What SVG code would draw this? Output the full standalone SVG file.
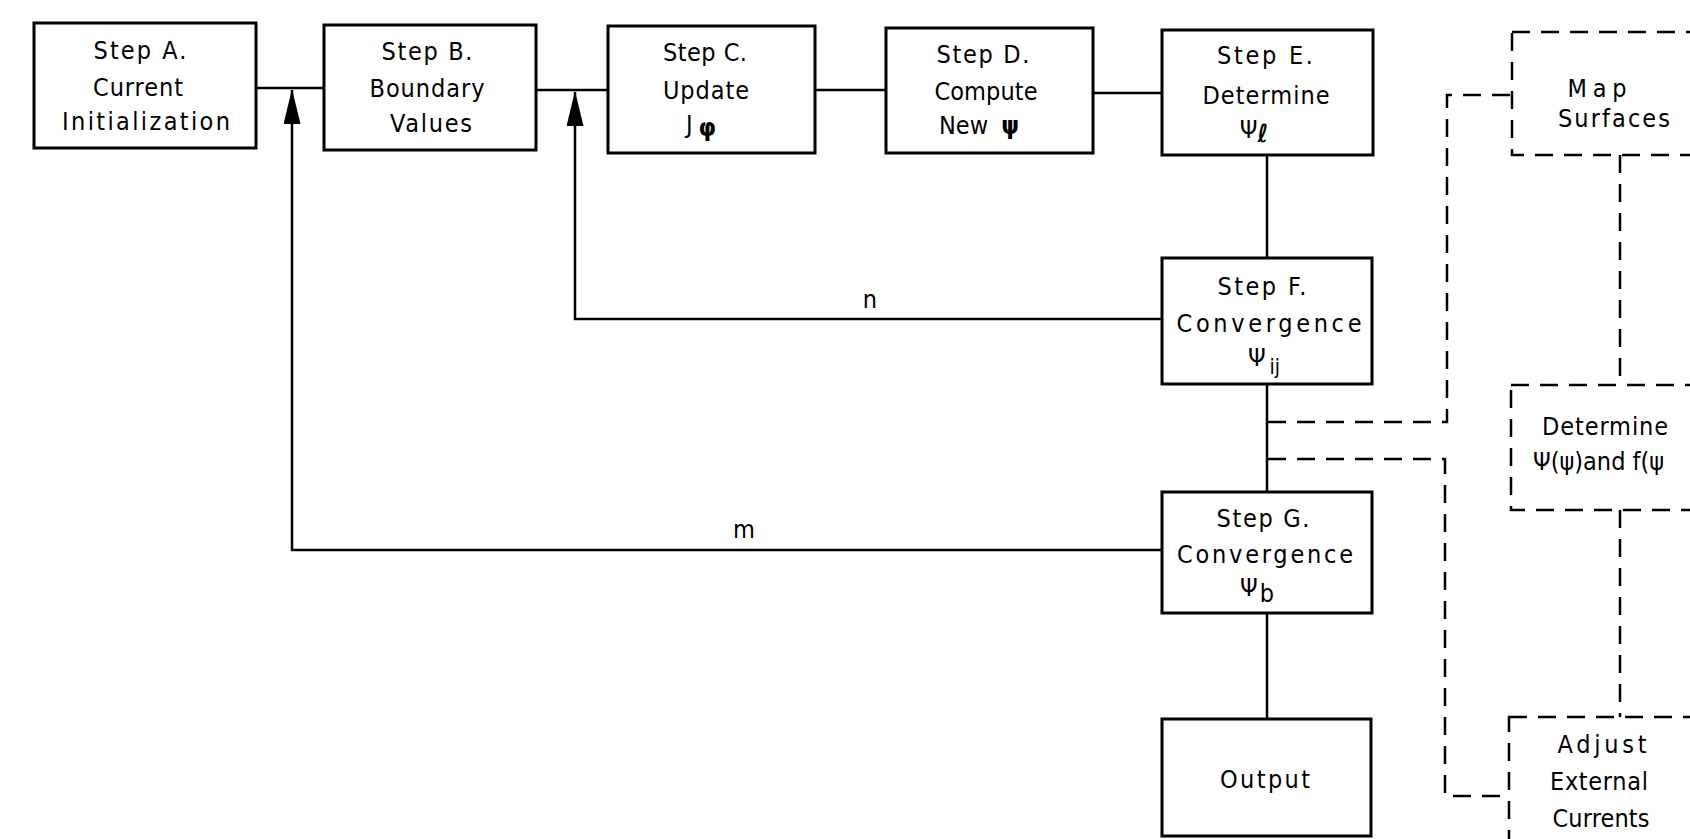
<svg xmlns="http://www.w3.org/2000/svg" width="1690" height="839" viewBox="0 0 1690 839">
<style>
.box{fill:#fff;stroke:#000;stroke-width:3}
.dbox{fill:none;stroke:#000;stroke-width:2.5;stroke-dasharray:18 11}
.c{fill:none;stroke:#000;stroke-width:2.5}
.d{fill:none;stroke:#000;stroke-width:2.5;stroke-dasharray:18 11}
.t{font-family:"DejaVu Sans Condensed","DejaVu Sans","Liberation Sans",sans-serif;font-size:25px;text-anchor:middle;fill:#000}
.s{text-anchor:start}
.sub{font-size:21px}
</style>
<defs>
<marker id="arr" markerUnits="userSpaceOnUse" markerWidth="36" markerHeight="18" refX="34" refY="8.5" orient="auto">
<path d="M0,0 L35,8.5 L0,17 Z" fill="#000"/>
</marker>
</defs>
<rect width="1690" height="839" fill="#fff"/>
<g id="connectors">
<path class="c" d="M256,88 H324"/>
<path class="c" d="M536,90 H608"/>
<path class="c" d="M815,90 H886"/>
<path class="c" d="M1093,93 H1162"/>
<path class="c" d="M1267,155 V258"/>
<path class="c" d="M1267,384 V492"/>
<path class="c" d="M1267,613 V719"/>
<path class="c" d="M1162,319 H575 V92" marker-end="url(#arr)"/>
<path class="c" d="M1162,550 H292 V90" marker-end="url(#arr)"/>
<path class="d" d="M1268,422 H1447 V95 H1512"/>
<path class="d" d="M1268,459 H1445 V796 H1509"/>
<path class="d" d="M1620,155 V385"/>
<path class="d" d="M1620,510 V717"/>
<text class="t" x="870" y="308">n</text>
<text class="t" x="744" y="538">m</text>
</g>
<g id="stepA">
<rect class="box" x="34" y="23" width="222" height="125"/>
<text class="t" x="140" y="59" textLength="93" lengthAdjust="spacing">Step A.</text>
<text class="t" x="138" y="96" textLength="90" lengthAdjust="spacing">Current</text>
<text class="t" x="146" y="130" textLength="168" lengthAdjust="spacing">Initialization</text>
</g>
<g id="stepB">
<rect class="box" x="324" y="25" width="212" height="125"/>
<text class="t" x="427" y="60" textLength="91" lengthAdjust="spacing">Step B.</text>
<text class="t" x="427" y="97" textLength="115" lengthAdjust="spacing">Boundary</text>
<text class="t" x="431" y="132" textLength="82" lengthAdjust="spacing">Values</text>
</g>
<g id="stepC">
<rect class="box" x="608" y="26" width="207" height="127"/>
<text class="t" x="705" y="61" textLength="84" lengthAdjust="spacing">Step C.</text>
<text class="t" x="706" y="99" textLength="86" lengthAdjust="spacing">Update</text>
<text class="t" x="701" y="133">J<tspan dx="6" dy="3" font-weight="bold">φ</tspan></text>
</g>
<g id="stepD">
<rect class="box" x="886" y="28" width="207" height="125"/>
<text class="t" x="983" y="63" textLength="93" lengthAdjust="spacing">Step D.</text>
<text class="t" x="986" y="100" textLength="103" lengthAdjust="spacing">Compute</text>
<text class="t" x="979" y="134">New <tspan dx="6" font-weight="bold">ψ</tspan></text>
</g>
<g id="stepE">
<rect class="box" x="1162" y="30" width="211" height="125"/>
<text class="t" x="1265" y="64" textLength="96" lengthAdjust="spacing">Step E.</text>
<text class="t" x="1266" y="104" textLength="127" lengthAdjust="spacing">Determine</text>
<text class="t" x="1254" y="138">Ψ<tspan dy="4" font-style="italic" font-weight="bold">ℓ</tspan></text>
</g>
<g id="stepF">
<rect class="box" x="1162" y="258" width="210" height="126"/>
<text class="t" x="1262" y="295" textLength="89" lengthAdjust="spacing">Step F.</text>
<text class="t" x="1269" y="332" textLength="185" lengthAdjust="spacing">Convergence</text>
<text class="t" x="1264" y="366">Ψ<tspan class="sub" dx="4" dy="8">ij</tspan></text>
</g>
<g id="stepG">
<rect class="box" x="1162" y="492" width="210" height="121"/>
<text class="t" x="1263" y="527" textLength="93" lengthAdjust="spacing">Step G.</text>
<text class="t" x="1265" y="563" textLength="176" lengthAdjust="spacing">Convergence</text>
<text class="t" x="1257" y="596">Ψ<tspan dx="2" dy="6">b</tspan></text>
</g>
<g id="output">
<rect class="box" x="1162" y="719" width="209" height="117"/>
<text class="t" x="1265" y="788" textLength="90" lengthAdjust="spacing">Output</text>
</g>
<g id="mapSurfaces">
<rect class="dbox" x="1512" y="32" width="220" height="123"/>
<text class="t" x="1597" y="97" textLength="59" lengthAdjust="spacing">Map</text>
<text class="t" x="1614" y="127" textLength="112" lengthAdjust="spacing">Surfaces</text>
</g>
<g id="determine">
<rect class="dbox" x="1511" y="385" width="220" height="125"/>
<text class="t" x="1605" y="435" textLength="126" lengthAdjust="spacing">Determine</text>
<text class="t s" x="1533" y="470">Ψ(ψ)and f(ψ</text>
</g>
<g id="adjust">
<rect class="dbox" x="1509" y="717" width="220" height="150"/>
<text class="t" x="1602" y="753" textLength="89" lengthAdjust="spacing">Adjust</text>
<text class="t" x="1599" y="790" textLength="98" lengthAdjust="spacing">External</text>
<text class="t" x="1601" y="827" textLength="97" lengthAdjust="spacing">Currents</text>
</g>
</svg>
